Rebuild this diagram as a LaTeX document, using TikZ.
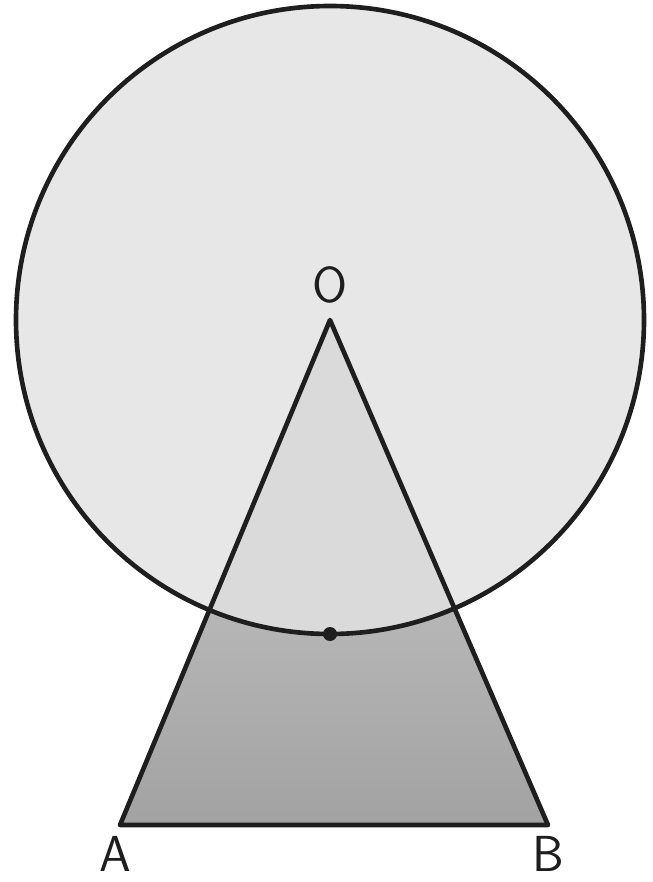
\documentclass[tikz,border=0pt]{standalone}
\usetikzlibrary{positioning}
\definecolor{disc}{HTML}{E7E7E7}
\definecolor{wedge}{HTML}{DADADA}
\definecolor{lowtop}{HTML}{D2D2D2}
\definecolor{lowbot}{HTML}{A2A2A2}
\definecolor{ink}{HTML}{1E1E1E}
\tikzset{
  rim/.style={line width=3.3pt, draw=ink, line join=round},
  ptlabel/.style={font=\sffamily\fontsize{36}{36}\selectfont, text=ink, inner sep=0pt},
}

\begin{document}
\begin{tikzpicture}[x=0.025cm,y=-0.025cm]
    \useasboundingbox (0,0) rectangle (652,882);
    \coordinate (O) at (330,320);
    \coordinate (A) at (120,825);
    \coordinate (B) at (548,825);
    \coordinate (M) at (330,634);
    % disc and the triangle
    \fill[disc] (O) circle[radius=314];
    \shade[top color=lowtop, bottom color=lowbot] (O) -- (A) -- (B) -- cycle;
    \begin{scope}
        \clip (O) circle[radius=314];
        \fill[wedge] (O) -- (A) -- (B) -- cycle;
    \end{scope}
    \draw[rim] (O) circle[radius=314];
    \draw[rim] (O) -- (A) -- (B) -- cycle;
    \fill[ink] (M) circle[radius=7];
    % labels
    \node[ptlabel, above=0.4cm of O] (labO) {O};
    \node[ptlabel, below=0.28cm of A, xshift=-3pt] (labA) {A};
    \node[ptlabel, below=0.28cm of B] (labB) {B};
\end{tikzpicture}
\end{document}
